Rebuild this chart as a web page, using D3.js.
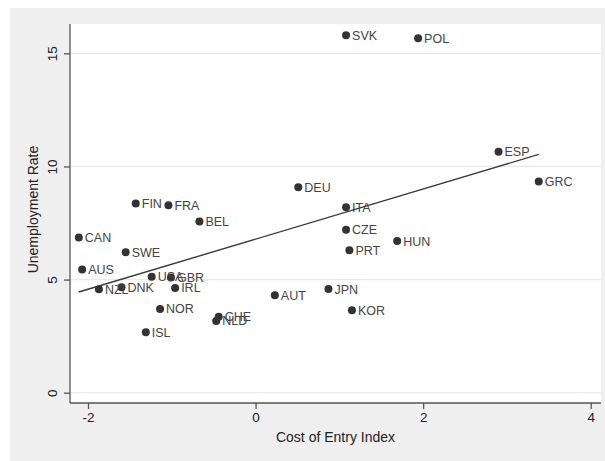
<!DOCTYPE html>
<html>
<head>
<meta charset="utf-8">
<script src="https://cdn.jsdelivr.net/npm/d3@7"></script>
<style>
  body { margin: 0; background: #fff; }
  text { font-family: "Liberation Sans", Arial, sans-serif; }
</style>
</head>
<body>
<div id="chart"></div>
<script>
const countries = ["SVK", "POL", "ESP", "GRC", "DEU", "ITA", "CZE", "PRT", "HUN", "FIN",
    "FRA", "BEL", "CAN", "SWE", "AUS", "USA", "GBR", "NZL", "DNK", "IRL",
    "NOR", "CHE", "NLD", "ISL", "AUT", "JPN", "KOR"];
const costIndex = [1.08, 1.94, 2.90, 3.38, 0.51, 1.08, 1.08, 1.12, 1.69, -1.43,
    -1.04, -0.67, -2.11, -1.55, -2.07, -1.24, -1.01, -1.87, -1.60, -0.96,
    -1.14, -0.44, -0.47, -1.31, 0.23, 0.87, 1.15];
const unemployment = [15.8, 15.67, 10.65, 9.33, 9.08, 8.2, 7.2, 6.3, 6.7, 8.36,
    8.28, 7.57, 6.86, 6.21, 5.45, 5.12, 5.09, 4.57, 4.66, 4.63,
    3.70, 3.36, 3.17, 2.67, 4.31, 4.58, 3.64];
const fitX = [-2.11, 3.38];
const fitY = [4.45, 10.53];
const xTicks = [-2, 0, 2, 4];
const yTicks = [0, 5, 10, 15];

const width = 605, height = 461;
const plot = { left: 70, right: 601, top: 24, bottom: 403 };

const svg = d3.select("#chart").append("svg")
    .attr("width", width).attr("height", height);

// outer graph region
svg.append("rect")
    .attr("x", 10).attr("y", 8)
    .attr("width", width - 10).attr("height", height - 8)
    .attr("fill", "#efefef");

svg.append("rect")
    .attr("x", plot.left).attr("y", plot.top)
    .attr("width", plot.right - plot.left).attr("height", plot.bottom - plot.top)
    .attr("fill", "#fff");

const x = d3.scaleLinear().domain([-2, 4]).range([88, 590.7]);
const y = d3.scaleLinear().domain([0, 15]).range([392.7, 53.3]);

// grid
svg.append("g").selectAll("line")
    .data(yTicks)
    .join("line")
    .attr("x1", plot.left).attr("x2", plot.right)
    .attr("y1", d => y(d)).attr("y2", d => y(d))
    .attr("stroke", "#eaeaea").attr("stroke-width", 1.2);

// axes
const xAxis = svg.append("g")
    .attr("transform", `translate(0,${plot.bottom})`)
    .call(d3.axisBottom(x).tickValues(xTicks).tickFormat(d => String(d))
        .tickSize(6).tickPadding(3).tickSizeOuter(0));
xAxis.select(".domain").attr("d", `M${plot.left},0H${plot.right}`);

const yAxis = svg.append("g")
    .attr("transform", `translate(${plot.left},0)`)
    .call(d3.axisLeft(y).tickValues(yTicks).tickFormat(d => String(d))
        .tickSize(6).tickSizeOuter(0));
yAxis.select(".domain").attr("d", `M0,${plot.top}V${plot.bottom}`);
yAxis.selectAll(".tick text")
    .attr("x", null).attr("dy", null)
    .attr("transform", "translate(-13,0) rotate(-90)")
    .attr("text-anchor", "middle");

svg.selectAll(".domain").attr("stroke", "#555").attr("stroke-width", 1.3);
svg.selectAll(".tick line").attr("stroke", "#555").attr("stroke-width", 1.3);
svg.selectAll(".tick text").attr("fill", "#222").style("font-size", "13.5px")
    .style("font-family", "'Liberation Sans', Arial, sans-serif");

// axis titles
svg.append("text")
    .attr("x", (plot.left + plot.right) / 2).attr("y", 442)
    .attr("text-anchor", "middle")
    .attr("fill", "#222")
    .style("font-size", "14px")
    .text("Cost of Entry Index");

svg.append("text")
    .attr("transform", `translate(38,${(plot.top + plot.bottom) / 2 - 4}) rotate(-90)`)
    .attr("text-anchor", "middle")
    .attr("fill", "#222")
    .style("font-size", "14px")
    .text("Unemployment Rate");

// fitted line
svg.append("path")
    .datum(fitX.map((d, i) => [d, fitY[i]]))
    .attr("d", d3.line().x(d => x(d[0])).y(d => y(d[1])))
    .attr("fill", "none")
    .attr("stroke", "#3a3a3a")
    .attr("stroke-width", 1.4);

// points + labels
const pts = countries.map((c, i) => ({ c, x: costIndex[i], y: unemployment[i] }));

svg.append("g").selectAll("circle")
    .data(pts)
    .join("circle")
    .attr("cx", d => x(d.x)).attr("cy", d => y(d.y))
    .attr("r", 4)
    .attr("fill", "#333");

svg.append("g").selectAll("text")
    .data(pts)
    .join("text")
    .attr("x", d => x(d.x) + 6).attr("y", d => y(d.y) + 4.5)
    .attr("fill", "#444")
    .style("font-size", "12.5px")
    .text(d => d.c);
</script>
</body>
</html>
